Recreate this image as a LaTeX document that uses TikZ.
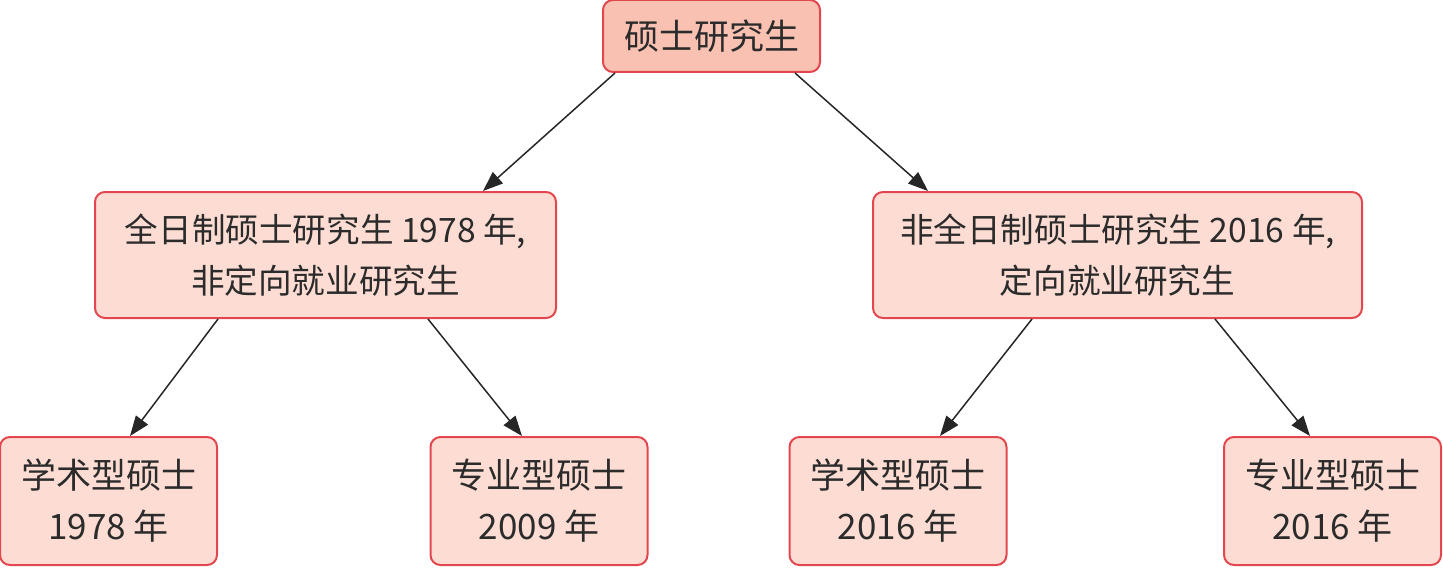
\documentclass[tikz,border=0pt]{standalone}
\usepackage{fontspec}
\usepackage{xcolor}
\newfontfamily\cjk{Noto Sans CJK SC}
\usetikzlibrary{arrows.meta, positioning}
\definecolor{boxred}{HTML}{E2474F}
\definecolor{topfill}{HTML}{F9C1B2}
\definecolor{subfill}{HTML}{FDDDD3}
\definecolor{txt}{HTML}{2B2B2B}
\tikzset{
    box/.style={draw=boxred, line width=1pt, rounded corners=5pt, text=txt,
        align=center, font=\cjk\fontsize{17.5}{25.5}\selectfont, inner sep=0pt},
    topbox/.style={box, fill=topfill, minimum width=108.5pt, minimum height=36pt},
    midbox/.style={box, fill=subfill, minimum height=63pt,
        font=\cjk\fontsize{16.8}{25.5}\selectfont},
    leafbox/.style={box, fill=subfill, minimum width=108.5pt, minimum height=64pt},
    link/.style={-{Triangle[length=10pt,width=7.5pt]}, line width=0.75pt, draw=black!85}
}
\begin{document}
\begin{tikzpicture}[x=0.5pt, y=-0.5pt]
    \useasboundingbox (0, 0) rectangle (1443, 567);
    \node[topbox] (root) at (711.5, 36) {硕士研究生};
    \node[midbox, minimum width=230.5pt] (full) at (325.5, 255) {全日制硕士研究生 1978 年,\\非定向就业研究生};
    \node[midbox, minimum width=244.5pt] (part) at (1117.5, 255) {非全日制硕士研究生 2016 年,\\定向就业研究生};
    \node[leafbox] (fullacad) at (108.5, 501) {学术型硕士\\1978 年};
    \node[leafbox] (fullpro) at (539, 501) {专业型硕士\\2009 年};
    \node[leafbox] (partacad) at (898, 501) {学术型硕士\\2016 年};
    \node[leafbox] (partpro) at (1332.5, 501) {专业型硕士\\2016 年};
    % connectors
    \draw[link] ([xshift=-48.25pt]root.south) -- ([xshift=78.75pt]full.north);
    \draw[link] ([xshift=41.75pt]root.south) -- ([xshift=-94.75pt]part.north);
    \draw[link] ([xshift=-53.75pt]full.south) -- ([xshift=10.75pt]fullacad.north);
    \draw[link] ([xshift=51.25pt]full.south) -- ([xshift=-8.5pt]fullpro.north);
    \draw[link] ([xshift=-42.75pt]part.south) -- ([xshift=21pt]partacad.north);
    \draw[link] ([xshift=48.75pt]part.south) -- ([xshift=-11.25pt]partpro.north);
\end{tikzpicture}
\end{document}
